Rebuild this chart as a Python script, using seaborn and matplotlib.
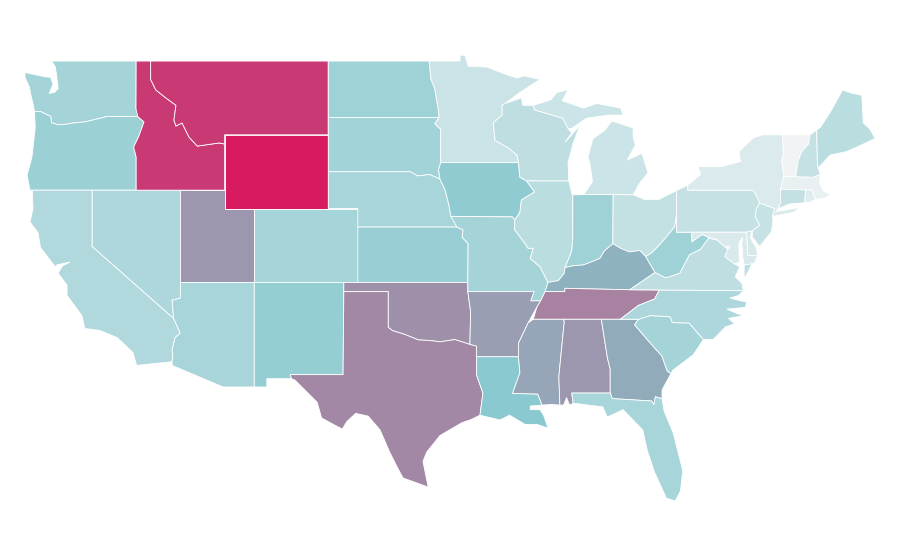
import pandas as pd
import matplotlib.pyplot as plt
from matplotlib.colors import Normalize
import seaborn as sns

# state values on a 0-100 scale
states = ["WA", "OR", "CA", "NV", "ID", "MT", "WY", "UT", "CO", "AZ", "NM", "ND", "SD", "NE", "KS", "OK",
          "TX", "MN", "IA", "MO", "AR", "LA", "WI", "IL", "MI", "IN", "OH", "KY", "TN", "MS", "AL", "GA",
          "FL", "SC", "NC", "VA", "WV", "PA", "NY", "NJ", "DE", "MD", "DC", "CT", "RI", "MA", "VT", "NH", "ME"]
values = [36, 40, 30, 32, 91, 91, 100, 64, 35, 34, 43, 38, 37, 34, 41, 66,
          68, 19, 45, 36, 62, 48, 24, 26, 18, 38, 22, 56, 70, 60, 64, 58,
          34, 36, 32, 24, 38, 21, 11, 20, 14, 12, 2, 22, 9, 5, 1, 21, 26]

# state outlines as (lon, lat)
WA = [(-122.75, 49), (-117.03, 49), (-117.04, 46.4), (-116.5, 45.7), (-116.92, 45.99), (-118.98, 46), (-119.3, 45.93), (-120.5, 45.7),
      (-121.2, 45.65), (-122, 45.55), (-122.3, 45.55), (-122.75, 45.65), (-122.8, 46), (-123.2, 46.15), (-123.5, 46.27),
      (-123.9, 46.25), (-124, 46.7), (-124.1, 47), (-124.25, 47.6), (-124.54, 48.1), (-124.54, 48.38), (-123.2, 48.15),
      (-122.8, 48.12), (-122.65, 47.75), (-122.9, 47.25), (-122.55, 47.3), (-122.3, 47.5), (-122.4, 48.2), (-122.5, 48.7)]
OR = [(-124.2, 42), (-124.4, 42.8), (-124.07, 43.8), (-123.85, 45.4), (-123.9, 46.25), (-123.5, 46.27), (-123.2, 46.15), (-122.8, 46),
      (-122.75, 45.65), (-122.3, 45.55), (-122, 45.55), (-121.2, 45.65), (-120.5, 45.7), (-119.3, 45.93), (-118.98, 46), (-116.92, 45.99),
      (-116.5, 45.7), (-116.86, 44.9), (-117.2, 44.34), (-117.03, 43.8), (-117.03, 42)]
CA = [(-124.05, 42), (-120, 42), (-120, 38.95), (-114.5, 35.05), (-114.05, 34.25), (-114.4, 34), (-114.6, 33.35), (-114.55, 32.97),
      (-114.6, 32.7), (-117, 32.5), (-117.25, 33.2), (-118.3, 34), (-119.5, 34.4), (-120.5, 34.5), (-120.7, 35.2), (-121.7, 36.3),
      (-121.7, 36.85), (-122.3, 37.5), (-122, 37.9), (-121.5, 38.1), (-122.4, 37.95), (-122.4, 37.8), (-122.7, 38.05), (-123.5, 38.9),
      (-123.66, 39.7), (-124.2, 40.27), (-124, 41)]
NV = [(-120, 42), (-114.04, 42), (-114.04, 36.15), (-114.6, 36.03), (-114.5, 35.05), (-120, 38.95)]
ID = [(-117.03, 49), (-116.05, 49), (-116.05, 48), (-115.7, 47.43), (-115.02, 47), (-114.34, 46.6), (-114.48, 45.8), (-114.34, 45.48),
      (-113.93, 45.64), (-113.46, 44.88), (-112.9, 44.39), (-111.41, 44.56), (-111.05, 44.5), (-111.05, 42), (-117.03, 42),
      (-117.03, 43.8), (-117.2, 44.34), (-116.86, 44.9), (-116.5, 45.7), (-116.92, 45.99), (-117.04, 46.4)]
MT = [(-116.05, 49), (-104.05, 49), (-104.05, 45), (-111.05, 45), (-111.05, 44.5), (-111.41, 44.56), (-112.9, 44.39), (-113.46, 44.88),
      (-113.93, 45.64), (-114.34, 45.48), (-114.48, 45.8), (-114.34, 46.6), (-115.02, 47), (-115.7, 47.43), (-116.05, 48)]
WY = [(-111.05, 45), (-104.05, 45), (-104.05, 41), (-111.05, 41)]
UT = [(-114.04, 42), (-111.05, 42), (-111.05, 41), (-109.05, 41), (-109.05, 37), (-114.04, 37)]
CO = [(-109.05, 41), (-102.05, 41), (-102.05, 37), (-109.05, 37)]
AZ = [(-114.5, 35.05), (-114.6, 36.03), (-114.04, 36.15), (-114.04, 37), (-109.05, 37), (-109.05, 31.33), (-111.15, 31.33),
      (-114.6, 32.5), (-114.6, 32.7), (-114.55, 32.97), (-114.6, 33.35), (-114.4, 34), (-114.05, 34.25)]
NM = [(-109.05, 37), (-103, 37), (-103.05, 32), (-106.62, 32), (-106.53, 31.78), (-108.2, 31.78), (-108.2, 31.33), (-109.05, 31.33)]
ND = [(-104.05, 49), (-97.23, 49), (-97.1, 48), (-96.85, 47.5), (-96.6, 46.3), (-96.56, 45.94), (-104.05, 45.94)]
SD = [(-104.05, 45.94), (-96.56, 45.94), (-96.85, 45.6), (-96.45, 45.3), (-96.45, 43.5), (-96.6, 43.1), (-96.5, 42.6), (-97.2, 42.85),
      (-98, 42.77), (-98.5, 43), (-104.05, 43)]
NE = [(-104.05, 43), (-98.5, 43), (-98, 42.77), (-97.2, 42.85), (-96.5, 42.6), (-96.15, 42), (-95.9, 41.2), (-95.8, 40.75),
      (-95.35, 40), (-102.05, 40), (-102.05, 41), (-104.05, 41)]
KS = [(-102.05, 40), (-95.35, 40), (-94.95, 39.85), (-95, 39.45), (-94.6, 39.1), (-94.62, 37), (-102.05, 37)]
OK = [(-103, 37), (-94.62, 37), (-94.62, 36.5), (-94.43, 35.4), (-94.48, 33.64), (-95.5, 33.9), (-96.5, 33.78), (-97.2, 33.85),
      (-97.95, 33.88), (-98.95, 34.2), (-99.7, 34.38), (-100, 34.56), (-100, 36.5), (-103, 36.5)]
TX = [(-103, 36.5), (-100, 36.5), (-100, 34.56), (-99.7, 34.38), (-98.95, 34.2), (-97.95, 33.88), (-97.2, 33.85), (-96.5, 33.78),
      (-95.5, 33.9), (-94.48, 33.64), (-94.04, 33.55), (-94.04, 32), (-93.6, 31), (-93.8, 29.8), (-94.45, 29.55), (-95, 29.4),
      (-96.5, 28.7), (-97.4, 27.8), (-97.65, 27.3), (-97.5, 26.7), (-97.3, 25.9), (-99, 26.4), (-99.4, 27), (-99.9, 27.8),
      (-100.55, 29), (-101.35, 29.75), (-102.2, 29.9), (-102.8, 29.45), (-103.1, 29.05), (-103.7, 29.3), (-104.5, 29.65),
      (-104.8, 30.5), (-105.3, 30.9), (-106.3, 31.7), (-106.53, 31.78), (-106.62, 32), (-103.05, 32)]
MN = [(-97.23, 49), (-95.15, 49), (-95.15, 49.33), (-94.8, 49.3), (-94.6, 48.72), (-93.3, 48.67), (-92.3, 48.35), (-91.3, 48.08),
      (-90.8, 48.2), (-89.75, 48), (-91.1, 47.3), (-92.1, 46.7), (-92.3, 46.6), (-92.3, 46.07), (-92.9, 45.65), (-92.78, 44.7),
      (-91.9, 44.3), (-91.3, 43.9), (-91.2, 43.5), (-96.45, 43.5), (-96.45, 45.3), (-96.85, 45.6), (-96.56, 45.94), (-96.6, 46.3),
      (-96.85, 47.5), (-97.1, 48)]
IA = [(-96.45, 43.5), (-91.2, 43.5), (-91.1, 42.7), (-90.65, 42.5), (-90.1, 41.9), (-91, 41.47), (-91.1, 40.8), (-91.45, 40.38),
      (-91.6, 40.55), (-95.77, 40.58), (-95.8, 40.75), (-95.9, 41.2), (-96.15, 42), (-96.5, 42.6), (-96.6, 43.1)]
MO = [(-95.77, 40.58), (-91.6, 40.55), (-91.45, 40.38), (-91.45, 39.85), (-90.75, 39.1), (-90.55, 38.85), (-90.2, 38.85), (-90.4, 38.3),
      (-89.75, 37.85), (-89.2, 37), (-89.4, 36.5), (-89.7, 36), (-90.37, 36), (-90.15, 36.5), (-94.62, 36.5), (-94.62, 37),
      (-94.6, 39.1), (-95, 39.45), (-94.95, 39.85), (-95.35, 40)]
AR = [(-94.62, 36.5), (-90.15, 36.5), (-90.37, 36), (-89.7, 36), (-89.95, 35.67), (-90.55, 34.8), (-91.2, 33.7), (-91.2, 32.97),
      (-94.04, 32.97), (-94.04, 33.55), (-94.48, 33.64), (-94.43, 35.4)]
LA = [(-94.04, 32.97), (-91.2, 32.97), (-91.1, 32.1), (-91.6, 30.98), (-89.9, 30.95), (-89.6, 30.35), (-90.4, 30.3), (-90.4, 30.1),
      (-89.75, 30.1), (-89.5, 29.8), (-89.2, 29.1), (-89.95, 29.3), (-90.75, 29.3), (-91.8, 29.8), (-92.45, 29.54), (-93.8, 29.8),
      (-93.6, 31), (-94.04, 32)]
WI = [(-92.3, 46.6), (-92.1, 46.7), (-91, 47), (-90.9, 46.6), (-90.2, 46.6), (-90.1, 46.35), (-88.2, 45.9), (-87.85, 45.35),
      (-87.6, 45.1), (-88.05, 44.6), (-87.05, 45.5), (-87.5, 44.55), (-87.85, 43.5), (-87.8, 42.5), (-90.65, 42.5), (-91.1, 42.7),
      (-91.2, 43.5), (-91.3, 43.9), (-91.9, 44.3), (-92.78, 44.7), (-92.9, 45.65), (-92.3, 46.07)]
IL = [(-90.65, 42.5), (-87.8, 42.5), (-87.55, 41.7), (-87.53, 39.3), (-87.6, 38.7), (-88.05, 37.8), (-88.1, 37.5), (-88.5, 37.1),
      (-89.2, 37), (-89.75, 37.85), (-90.4, 38.3), (-90.2, 38.85), (-90.55, 38.85), (-90.75, 39.1), (-91.45, 39.85), (-91.45, 40.38),
      (-91.1, 40.8), (-91, 41.47), (-90.1, 41.9)]
MI_LOWER = [(-86.8, 41.76), (-84.8, 41.76), (-83.45, 41.75), (-83, 42.4), (-82.45, 42.93), (-82.85, 44), (-83.85, 43.63), (-83.3, 44.45),
            (-83.45, 44.9), (-83.45, 45.37), (-84.9, 45.75), (-85.35, 45.25), (-86.17, 44.8), (-86.5, 43.8), (-86.35, 43.35),
            (-86.2, 42.45)]
MI_UPPER = [(-90.2, 46.6), (-89, 46.9), (-88.6, 47.3), (-87.85, 47.43), (-88.25, 46.85), (-86.8, 46.45), (-85.9, 46.7), (-84.3, 46.45),
            (-84.13, 46.07), (-85.15, 46.07), (-86.6, 45.9), (-87.6, 45.35), (-87.85, 45.35), (-88.2, 45.9), (-90.1, 46.35)]
IN = [(-87.53, 41.75), (-87.2, 41.75), (-86.8, 41.76), (-84.8, 41.76), (-84.82, 39.1), (-85.4, 38.7), (-85.7, 38.3), (-86.3, 38.1),
      (-86.8, 37.95), (-87.5, 37.9), (-88.05, 37.8), (-87.6, 38.7), (-87.53, 39.3)]
OH = [(-84.8, 41.76), (-83.45, 41.75), (-82.7, 41.5), (-81.7, 41.5), (-80.52, 41.98), (-80.52, 40.64), (-80.65, 40), (-81.7, 39),
      (-82.2, 38.6), (-82.6, 38.4), (-83, 38.73), (-83.7, 38.65), (-84.3, 38.85), (-84.82, 39.1)]
KY = [(-89.4, 36.5), (-89.2, 37), (-88.5, 37.1), (-88.1, 37.5), (-88.05, 37.8), (-87.5, 37.9), (-86.8, 37.95), (-86.3, 38.1),
      (-85.7, 38.3), (-85.4, 38.7), (-84.82, 39.1), (-84.3, 38.85), (-83.7, 38.65), (-83, 38.73), (-82.6, 38.4), (-81.97, 37.54),
      (-83.68, 36.6), (-86.5, 36.65), (-88.05, 36.68), (-88.07, 36.5)]
TN = [(-89.4, 36.5), (-88.07, 36.5), (-88.05, 36.68), (-86.5, 36.65), (-83.68, 36.6), (-81.68, 36.59), (-82, 36.1), (-83.1, 35.75),
      (-84.32, 35), (-85.6, 35), (-88.2, 35), (-90.2, 35), (-89.95, 35.67), (-89.7, 36)]
MS = [(-90.2, 35), (-88.2, 35), (-88.1, 34.9), (-88.47, 31.9), (-88.4, 30.35), (-89, 30.38), (-89.6, 30.35), (-89.9, 30.95),
      (-91.6, 30.98), (-91.1, 32.1), (-91.2, 32.97), (-91.2, 33.7), (-90.55, 34.8)]
AL = [(-88.2, 35), (-85.6, 35), (-85.18, 32.87), (-85, 32.3), (-85, 31), (-87.6, 31), (-87.5, 30.45), (-87.75, 30.35), (-87.95, 30.75),
      (-88.15, 30.35), (-88.4, 30.35), (-88.47, 31.9), (-88.1, 34.9)]
GA = [(-85.6, 35), (-83.1, 35), (-83.35, 34.7), (-82.55, 33.95), (-81.5, 33), (-81.15, 32.2), (-80.9, 32.05), (-81.5, 31.17),
      (-81.5, 30.7), (-81.95, 30.8), (-82.05, 30.37), (-82.2, 30.57), (-84.86, 30.7), (-85, 31), (-85, 32.3), (-85.18, 32.87)]
FL = [(-87.6, 31), (-85, 31), (-84.86, 30.7), (-82.2, 30.57), (-82.05, 30.37), (-81.95, 30.8), (-81.5, 30.7), (-81.35, 30),
      (-80.75, 28.85), (-80.1, 26.8), (-80.25, 25.7), (-80.6, 25.15), (-81.2, 25.3), (-82, 26.7), (-82.5, 27.9), (-82.8, 29),
      (-84.13, 30.1), (-85.2, 29.7), (-85.5, 30.25), (-87.5, 30.45)]
SC = [(-83.1, 35), (-82.3, 35.2), (-81.05, 35.15), (-80.93, 35.1), (-80.8, 34.82), (-79.67, 34.8), (-78.7, 33.9), (-79.4, 33.07),
      (-80.75, 32.25), (-80.9, 32.05), (-81.15, 32.2), (-81.5, 33), (-82.55, 33.95), (-83.35, 34.7)]
NC = [(-84.32, 35), (-83.1, 35.75), (-82, 36.1), (-81.68, 36.59), (-76, 36.55), (-76.3, 36.3), (-76.9, 36.15), (-76.2, 36), (-75.8, 35.95),
      (-75.85, 35.65), (-77.1, 35.55), (-76.4, 35.3), (-76, 35.2), (-77, 35.05), (-76.6, 34.75), (-77.2, 34.6), (-78.05, 33.9),
      (-78.7, 33.9), (-79.67, 34.8), (-80.8, 34.82), (-80.93, 35.1), (-81.05, 35.15), (-82.3, 35.2), (-83.1, 35)]
VA_MAIN = [(-83.68, 36.6), (-81.97, 37.54), (-81.25, 37.25), (-80.3, 37.5), (-79.65, 38.5), (-78.9, 38.8), (-78.35, 39.4), (-77.75, 39.3),
           (-77.5, 39.1), (-77.05, 38.8), (-77.25, 38.4), (-76.6, 38), (-76.25, 37.85), (-76.55, 37.3), (-76.1, 36.95), (-76, 36.55),
           (-81.68, 36.59)]
VA_SHORE = [(-75.4, 38.03), (-75.95, 37.95), (-75.95, 37.2), (-75.7, 37.55)]
WV = [(-80.52, 40.64), (-80.52, 39.72), (-79.48, 39.72), (-79.48, 39.2), (-78.8, 39.6), (-78.35, 39.45), (-77.85, 39.6), (-77.75, 39.3),
      (-78.35, 39.4), (-78.9, 38.8), (-79.65, 38.5), (-80.3, 37.5), (-81.25, 37.25), (-81.97, 37.54), (-82.6, 38.4), (-82.2, 38.6),
      (-81.7, 39), (-80.65, 40)]
PA = [(-80.52, 41.98), (-79.76, 42.27), (-79.76, 42), (-75.35, 42), (-75.05, 41.6), (-74.9, 41.3), (-75.13, 40.98), (-75.2, 40.55),
      (-74.9, 40.1), (-75.4, 39.8), (-75.79, 39.72), (-80.52, 39.72)]
NY = [(-79.76, 42.27), (-78.9, 42.85), (-79.05, 43.27), (-77.5, 43.27), (-76.2, 43.55), (-76.3, 44.1), (-75.3, 44.85), (-74.7, 45),
      (-73.35, 45), (-73.3, 44), (-73.4, 43.6), (-73.27, 42.75), (-73.5, 42.05), (-73.5, 41.3), (-73.65, 41), (-73.8, 40.85),
      (-72.2, 41.05), (-72.6, 40.8), (-74, 40.58), (-74, 40.7), (-73.9, 41), (-74.9, 41.3), (-75.05, 41.6), (-75.35, 42), (-79.76, 42)]
NJ = [(-74.9, 41.3), (-73.9, 41), (-74.05, 40.55), (-74, 40.35), (-74.1, 39.75), (-74.9, 38.95), (-75.4, 39.45), (-75.4, 39.8),
      (-74.9, 40.1), (-75.2, 40.55), (-75.13, 40.98)]
DE = [(-75.79, 39.72), (-75.4, 39.8), (-75.55, 39.45), (-75.1, 38.8), (-75.05, 38.45), (-75.7, 38.46)]
MD = [(-79.48, 39.72), (-75.79, 39.72), (-75.7, 38.46), (-75.05, 38.45), (-75.25, 38.03), (-75.95, 37.95), (-76.05, 38.4), (-76.1, 39.1),
      (-76.05, 39.45), (-76.3, 39.15), (-76.3, 38.6), (-76.25, 38.1), (-76.6, 38), (-77.25, 38.4), (-77.05, 38.8), (-77.5, 39.1),
      (-77.75, 39.3), (-78.35, 39.45), (-78.8, 39.6), (-79.48, 39.2)]
DC = [(-77.12, 38.93), (-77.04, 39), (-76.91, 38.89), (-77.04, 38.79)]
CT = [(-73.5, 42.05), (-71.8, 42.02), (-71.85, 41.32), (-72.9, 41.25), (-73.65, 41), (-73.5, 41.3)]
RI = [(-71.8, 42.02), (-71.38, 42.02), (-71.12, 41.5), (-71.5, 41.35), (-71.85, 41.32)]
MA = [(-73.5, 42.05), (-73.27, 42.75), (-71.3, 42.7), (-70.8, 42.87), (-70.85, 42.4), (-70.6, 41.95), (-70.15, 41.8),
      (-70.3, 41.65), (-70.65, 41.55), (-71.12, 41.5), (-71.38, 42.02), (-71.8, 42.02)]
VT = [(-73.35, 45), (-71.5, 45), (-71.6, 44.5), (-72.05, 44.1), (-72.3, 43.6), (-72.46, 42.73), (-73.27, 42.75), (-73.4, 43.6), (-73.3, 44)]
NH = [(-71.5, 45), (-71.05, 45.26), (-71, 43.5), (-70.95, 43.2), (-70.8, 42.87), (-71.3, 42.7), (-72.46, 42.73), (-72.3, 43.6),
      (-72.05, 44.1), (-71.6, 44.5)]
ME = [(-71.05, 45.26), (-70.8, 45.4), (-70.15, 46.2), (-69.3, 47.43), (-68.65, 47.25), (-68, 47.15), (-67.9, 45.65), (-67.45, 45.3),
      (-67.1, 44.8), (-68.3, 44.35), (-69, 44.1), (-70.15, 43.9), (-70.95, 43.2), (-71, 43.5)]

outlines = {"WA": [WA], "OR": [OR], "CA": [CA], "NV": [NV], "ID": [ID], "MT": [MT], "WY": [WY], "UT": [UT], "CO": [CO], "AZ": [AZ],
            "NM": [NM], "ND": [ND], "SD": [SD], "NE": [NE], "KS": [KS], "OK": [OK], "TX": [TX], "MN": [MN], "IA": [IA], "MO": [MO],
            "AR": [AR], "LA": [LA], "WI": [WI], "IL": [IL], "MI": [MI_LOWER, MI_UPPER], "IN": [IN], "OH": [OH], "KY": [KY], "TN": [TN],
            "MS": [MS], "AL": [AL], "GA": [GA], "FL": [FL], "SC": [SC], "NC": [NC], "VA": [VA_MAIN, VA_SHORE], "WV": [WV], "PA": [PA],
            "NY": [NY], "NJ": [NJ], "DE": [DE], "MD": [MD], "DC": [DC], "CT": [CT], "RI": [RI], "MA": [MA], "VT": [VT], "NH": [NH], "ME": [ME]}

sns.set_theme(style="white")

df = pd.DataFrame({"state": states, "value": values})
cmap = sns.blend_palette(["#f3f4f5", "#85c7cd", "#d81b60"], as_cmap=True)
norm = Normalize(0, 100)

fig = plt.figure(figsize=(9, 5.6), dpi=100)
ax = fig.add_axes([0, 0, 1, 1])

for row in df.itertuples():
    for part in outlines[row.state]:
        lons, lats = zip(*part)
        ax.fill(lons, lats, facecolor=cmap(norm(row.value)), edgecolor="white", linewidth=0.6, joinstyle="round")

# plain lon/lat projection, limits fix the scale of the map on the canvas
ax.set_xlim(-126.23, -65.42)
ax.set_ylim(21.95, 52.31)
ax.axis("off")

fig.savefig("out.png", dpi=100)
